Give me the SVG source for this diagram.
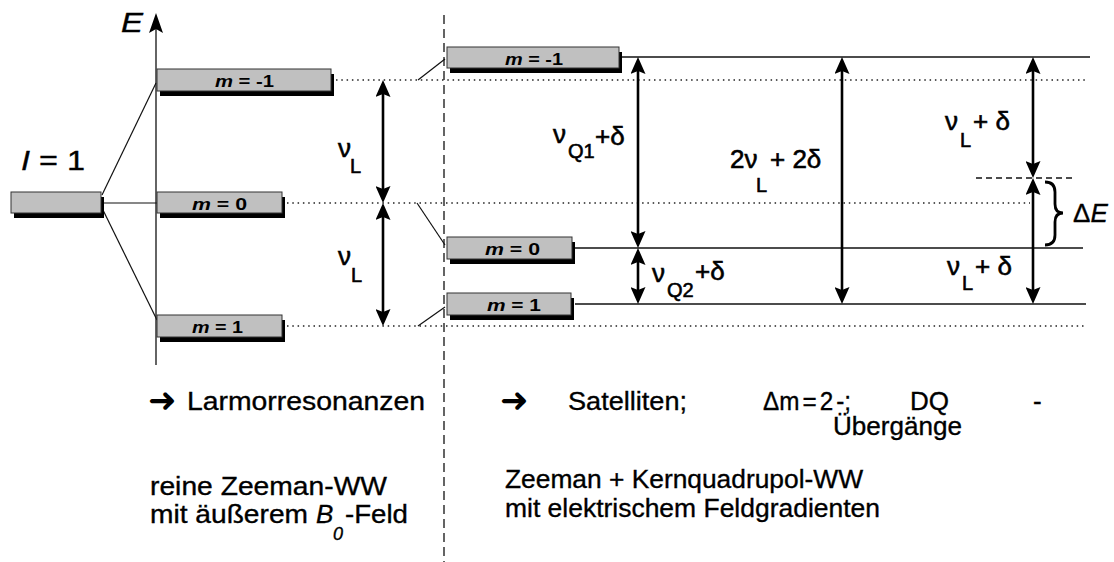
<svg xmlns="http://www.w3.org/2000/svg" width="1114" height="562" viewBox="0 0 1114 562">
<style>
text{font-family:"Liberation Sans",Arial,sans-serif;fill:#000;stroke:#000;stroke-width:0.35}
.box{fill:#c0c0c0;stroke:#333;stroke-width:1}
.sh{fill:#000}
.bl{font-size:16px;font-weight:bold;stroke-width:0}
.thin{stroke:#111;stroke-width:1.2;fill:none}
.dot{stroke:#222;stroke-width:1.3;stroke-dasharray:1.5 3.8;fill:none}
.lvl{stroke:#111;stroke-width:1.6;fill:none}
.arr{stroke:#000;stroke-width:2.6;fill:none;marker-start:url(#ah);marker-end:url(#ah)}
.big{font-size:26px}
.gr{font-size:26px;stroke-width:0.6}
.sub{font-size:20px}
.dj{font-family:"DejaVu Sans",sans-serif;font-size:34px;stroke-width:0}
</style>
<defs>
<marker id="ah" viewBox="0 0 17 15" refX="11" refY="7.5" markerWidth="17" markerHeight="15" markerUnits="userSpaceOnUse" orient="auto-start-reverse">
<path d="M0,0 L17,7.5 L0,15 L3,7.5 Z" fill="#000"/>
</marker>
</defs>
<rect width="1114" height="562" fill="#fff"/>

<g id="axis">
<line x1="156" y1="28" x2="156" y2="365" stroke="#111" stroke-width="1.3"/>
<polygon points="156,13 149,33 156,29 163,33" fill="#000"/>
<text x="121" y="32" font-size="28" font-style="italic" textLength="22" lengthAdjust="spacingAndGlyphs">E</text>
</g>

<g id="divider">
<line x1="444" y1="15" x2="444" y2="562" stroke="#111" stroke-width="1.3" stroke-dasharray="9 5"/>
</g>

<g id="connectors">
<line class="thin" x1="102" y1="195" x2="156" y2="83"/>
<line class="thin" x1="102" y1="203" x2="157" y2="203"/>
<line class="thin" x1="102" y1="208" x2="157" y2="320"/>
<line class="thin" x1="418" y1="80" x2="445" y2="59"/>
<line class="thin" x1="417" y1="203" x2="445" y2="245"/>
<line class="thin" x1="418" y1="326" x2="445" y2="307"/>
<line class="dot" x1="336" y1="80" x2="1088" y2="80"/>
<line class="dot" x1="287" y1="203" x2="1030" y2="203"/>
<line class="dot" x1="287" y1="326" x2="1086" y2="326"/>
<line class="lvl" x1="622" y1="57" x2="1090" y2="57"/>
<line class="lvl" x1="575" y1="248" x2="1083" y2="248"/>
<line class="lvl" x1="575" y1="304" x2="1086" y2="304"/>
<line x1="976" y1="178" x2="1075" y2="178" stroke="#111" stroke-width="1.3" stroke-dasharray="6 4"/>
<line class="arr" x1="383" y1="86" x2="383" y2="197"/>
<line class="arr" x1="383" y1="209" x2="383" y2="320"/>
<line class="arr" x1="638" y1="63" x2="638" y2="242"/>
<line class="arr" x1="638" y1="254" x2="638" y2="298"/>
<line class="arr" x1="842" y1="63" x2="842" y2="298"/>
<line class="arr" x1="1033" y1="63" x2="1033" y2="172"/>
<line class="arr" x1="1033" y1="184" x2="1033" y2="298"/>
<path d="M1045,182 Q1055,182 1055,192 L1055,204 Q1055,213 1063,213 Q1055,213 1055,222 L1055,235 Q1055,245 1045,245" stroke="#000" stroke-width="2.8" fill="none"/>
</g>

<g id="node-I1">
<rect class="sh" x="14" y="197" width="90" height="21"/>
<rect class="box" x="11" y="192" width="90" height="21"/>
<text x="21" y="170" font-size="28" textLength="64" lengthAdjust="spacingAndGlyphs"><tspan font-style="italic">I</tspan> = 1</text>
</g>

<g id="node-Lm-1">
<rect class="sh" x="160" y="74" width="174" height="22"/>
<rect class="box" x="157" y="69" width="174" height="22"/>
<text class="bl" x="215" y="87" textLength="59" lengthAdjust="spacingAndGlyphs"><tspan font-style="italic">m</tspan> = -1</text>
</g>
<g id="node-Lm0">
<rect class="sh" x="160" y="197" width="125" height="21"/>
<rect class="box" x="157" y="192" width="125" height="21"/>
<text class="bl" x="192" y="210" textLength="55" lengthAdjust="spacingAndGlyphs"><tspan font-style="italic">m</tspan> = 0</text>
</g>
<g id="node-Lm1">
<rect class="sh" x="160" y="320" width="125" height="22"/>
<rect class="box" x="157" y="315" width="125" height="22"/>
<text class="bl" x="192" y="333" textLength="51" lengthAdjust="spacingAndGlyphs"><tspan font-style="italic">m</tspan> = 1</text>
</g>
<g id="node-Rm-1">
<rect class="sh" x="450" y="52" width="172" height="21"/>
<rect class="box" x="447" y="47" width="172" height="21"/>
<text class="bl" x="505" y="65" textLength="58" lengthAdjust="spacingAndGlyphs"><tspan font-style="italic">m</tspan> = -1</text>
</g>
<g id="node-Rm0">
<rect class="sh" x="450" y="242" width="125" height="22"/>
<rect class="box" x="447" y="237" width="125" height="22"/>
<text class="bl" x="485" y="255" textLength="55" lengthAdjust="spacingAndGlyphs"><tspan font-style="italic">m</tspan> = 0</text>
</g>
<g id="node-Rm1">
<rect class="sh" x="450" y="298" width="124" height="22"/>
<rect class="box" x="447" y="293" width="124" height="22"/>
<text class="bl" x="487" y="311" textLength="54" lengthAdjust="spacingAndGlyphs"><tspan font-style="italic">m</tspan> = 1</text>
</g>

<g id="labels">
<text class="gr" x="338" y="157">ν<tspan class="sub" x="350" y="173">L</tspan></text>
<text class="gr" x="338" y="265">ν<tspan class="sub" x="351" y="282">L</tspan></text>
<text class="gr" x="553" y="143">ν<tspan class="sub" x="568" y="158">Q1</tspan><tspan x="595" y="145">+δ</tspan></text>
<text class="gr" x="652" y="282">ν<tspan class="sub" x="667" y="297">Q2</tspan><tspan x="695" y="280">+δ</tspan></text>
<text class="gr" x="730" y="168">2ν<tspan class="sub" x="756" y="192">L</tspan><tspan x="770" y="168">+ 2δ</tspan></text>
<text class="gr" x="945" y="130">ν<tspan class="sub" x="960" y="147">L</tspan><tspan x="973" y="130">+ δ</tspan></text>
<text class="gr" x="947" y="275">ν<tspan class="sub" x="962" y="290">L</tspan><tspan x="975" y="275">+ δ</tspan></text>
<text class="big" x="1073" y="222">Δ<tspan font-style="italic">E</tspan></text>
</g>

<g id="captions">
<text class="dj" x="148" y="412">➜</text>
<text class="big" x="187" y="410" textLength="238" lengthAdjust="spacingAndGlyphs">Larmorresonanzen</text>
<text class="dj" x="500" y="412">➜</text>
<text class="big" x="568" y="410" textLength="119" lengthAdjust="spacingAndGlyphs">Satelliten;</text>
<text class="big" x="763" y="410" word-spacing="-4" textLength="88" lengthAdjust="spacingAndGlyphs">Δm = 2 -;</text>
<text class="big" x="910" y="410"><tspan x="910">DQ </tspan><tspan x="1033">-</tspan></text>
<text class="big" x="833" y="435" textLength="129" lengthAdjust="spacingAndGlyphs">Übergänge</text>
<text class="big" x="150" y="495" textLength="237" lengthAdjust="spacingAndGlyphs">reine Zeeman-WW</text>
<text class="big" x="150" y="523"><tspan textLength="158" lengthAdjust="spacingAndGlyphs">mit äußerem</tspan><tspan x="316" font-style="italic">B</tspan><tspan x="333" y="540" font-size="18" font-style="italic">0</tspan><tspan x="345" y="523" textLength="63" lengthAdjust="spacingAndGlyphs">-Feld</tspan></text>
<text class="big" x="505" y="488" textLength="358" lengthAdjust="spacingAndGlyphs">Zeeman + Kernquadrupol-WW</text>
<text class="big" x="505" y="517" textLength="375" lengthAdjust="spacingAndGlyphs">mit elektrischem Feldgradienten</text>
</g>
</svg>
